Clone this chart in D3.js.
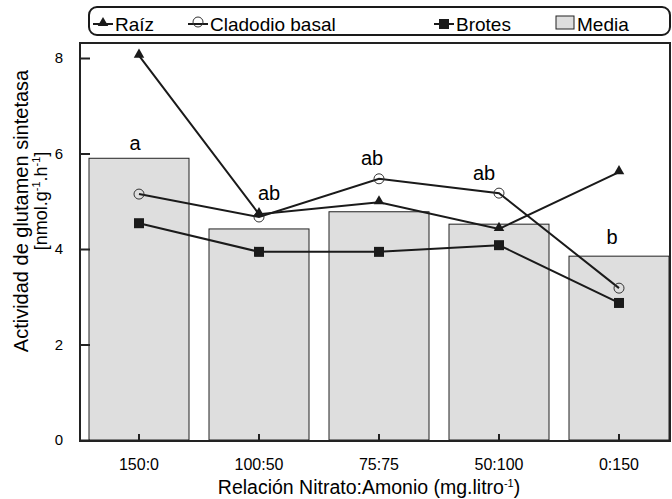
<!DOCTYPE html>
<html>
<head>
<meta charset="utf-8">
<script src="https://cdn.jsdelivr.net/npm/d3@7"></script>
<style>
  body { margin: 0; background: #fff; }
  svg { display: block; font-family: "Liberation Sans", Arial, sans-serif; }
</style>
</head>
<body>
<div class="chart"></div>
<script>
// categories and series
const categories = ["150:0", "100:50", "75:75", "50:100", "0:150"];
const media    = [5.90, 4.42, 4.78, 4.52, 3.85];
const raiz     = [8.05, 4.73, 4.98, 4.42, 5.61];
const cladodio = [5.15, 4.67, 5.47, 5.17, 3.18];
const brotes   = [4.54, 3.94, 3.94, 4.08, 2.87];
const letters  = ["a", "ab", "ab", "ab", "b"];
const letterAt = [6.07, 5.03, 5.76, 5.45, 4.10];
const yTicks   = [0, 2, 4, 6, 8];

let width = 672, height = 499;
let mLeft = 80, mRight = 670, mTop = 43, mBottom = 441;

let svg = d3.select("div.chart").append("svg")
  .attr("width", width)
  .attr("height", height);

let x = d3.scaleBand()
  .domain(categories)
  .range([79, 679])
  .paddingInner(20 / 120)
  .paddingOuter(10 / 120);

let y = d3.scaleLinear()
  .domain([0, 8])
  .range([440, 58]);

let cx = d => x(d) + x.bandwidth() / 2;

// bars (Media)
svg.append("g").selectAll("rect")
  .data(categories).enter()
  .append("rect")
  .attr("x", d => x(d))
  .attr("width", x.bandwidth())
  .attr("y", (d, i) => y(media[i]))
  .attr("height", (d, i) => y(0) - y(media[i]))
  .attr("fill", "#dedede")
  .attr("stroke", "#222")
  .attr("stroke-width", 1);

// frame
svg.append("rect")
  .attr("x", mLeft).attr("y", mTop)
  .attr("width", mRight - mLeft).attr("height", mBottom - mTop)
  .attr("fill", "none")
  .attr("stroke", "#222")
  .attr("stroke-width", 2);

// y axis: ticks inside
let yAxis = d3.axisRight(y).tickValues(yTicks).tickSize(10).tickFormat("");
let gy = svg.append("g").attr("transform", "translate(" + mLeft + ",0)").call(yAxis);
gy.select(".domain").remove();
gy.selectAll("line").attr("stroke", "#222").attr("stroke-width", 2);

svg.append("g").selectAll("text")
  .data(yTicks).enter()
  .append("text")
  .attr("x", 63)
  .attr("y", d => y(d) + 5)
  .attr("text-anchor", "end")
  .attr("font-size", 15)
  .text(d => d);

// x axis: ticks inside pointing up
let xAxis = d3.axisTop(x).tickSize(6).tickFormat("");
let gx = svg.append("g").attr("transform", "translate(0," + (mBottom - 1) + ")").call(xAxis);
gx.select(".domain").remove();
gx.selectAll("line").attr("stroke", "#222").attr("stroke-width", 2);

svg.append("g").selectAll("text")
  .data(categories).enter()
  .append("text")
  .attr("x", d => cx(d))
  .attr("y", 470)
  .attr("text-anchor", "middle")
  .attr("font-size", 16)
  .text(d => d);

// axis titles
let xt = svg.append("text")
  .attr("x", 369).attr("y", 494)
  .attr("text-anchor", "middle")
  .attr("font-size", 19.5);
xt.append("tspan").text("Relación Nitrato:Amonio (mg.litro");
xt.append("tspan").attr("font-size", 11).attr("dy", -7).text("-1");
xt.append("tspan").attr("dy", 7).text(")");

svg.append("text")
  .attr("transform", "translate(28,211) rotate(-90)")
  .attr("text-anchor", "middle")
  .attr("font-size", 20)
  .text("Actividad de glutamen sintetasa");

let yt2 = svg.append("text")
  .attr("transform", "translate(47,201) rotate(-90)")
  .attr("text-anchor", "middle")
  .attr("font-size", 18);
yt2.append("tspan").text("[nmol.g");
yt2.append("tspan").attr("font-size", 11).attr("dy", -7).text("-1");
yt2.append("tspan").attr("dy", 7).text(".h");
yt2.append("tspan").attr("font-size", 11).attr("dy", -7).text("-1");
yt2.append("tspan").attr("dy", 7).text("]");

// lines
let line = d3.line()
  .x((v, i) => cx(categories[i]))
  .y(v => y(v));

[raiz, cladodio, brotes].forEach(s => {
  svg.append("path")
    .attr("d", line(s))
    .attr("fill", "none")
    .attr("stroke", "#1a1a1a")
    .attr("stroke-width", 2);
});

let tri = d3.symbol().type(d3.symbolTriangle).size(48);
let sq = d3.symbol().type(d3.symbolSquare).size(100);

svg.append("g").selectAll("circle")
  .data(cladodio).enter()
  .append("circle")
  .attr("cx", (v, i) => cx(categories[i]))
  .attr("cy", v => y(v))
  .attr("r", 5)
  .attr("fill", "none")
  .attr("stroke", "#333")
  .attr("stroke-width", 1);

svg.append("g").selectAll("path")
  .data(raiz).enter()
  .append("path")
  .attr("d", tri)
  .attr("transform", (v, i) => "translate(" + cx(categories[i]) + "," + (y(v) - 1) + ")")
  .attr("fill", "#1a1a1a");

svg.append("g").selectAll("path")
  .data(brotes).enter()
  .append("path")
  .attr("d", sq)
  .attr("transform", (v, i) => "translate(" + cx(categories[i]) + "," + y(v) + ")")
  .attr("fill", "#1a1a1a");

// significance letters
let nudge = [-4, 10, -7, -15, -7];
svg.append("g").selectAll("text")
  .data(letters).enter()
  .append("text")
  .attr("x", (d, i) => cx(categories[i]) + nudge[i])
  .attr("y", (d, i) => y(letterAt[i]))
  .attr("text-anchor", "middle")
  .attr("font-size", 20)
  .text(d => d);

// legend
let lg = svg.append("g");
lg.append("rect")
  .attr("x", 89).attr("y", 7)
  .attr("width", 581).attr("height", 28)
  .attr("rx", 8)
  .attr("fill", "none")
  .attr("stroke", "#1a1a1a")
  .attr("stroke-width", 2);

let ly = 24;
let items = [
  { name: "Raíz", x: 93, kind: "tri" },
  { name: "Cladodio basal", x: 188, kind: "circle" },
  { name: "Brotes", x: 434, kind: "sq" },
  { name: "Media", x: 556, kind: "bar" }
];
items.forEach(it => {
  if (it.kind === "bar") {
    lg.append("rect")
      .attr("x", it.x).attr("y", ly - 8)
      .attr("width", 18).attr("height", 13)
      .attr("fill", "#dedede")
      .attr("stroke", "#222");
  } else {
    lg.append("line")
      .attr("x1", it.x).attr("x2", it.x + 20)
      .attr("y1", ly).attr("y2", ly)
      .attr("stroke", "#1a1a1a").attr("stroke-width", 2);
    if (it.kind === "tri") {
      lg.append("path").attr("d", tri).attr("transform", "translate(" + (it.x + 10) + "," + (ly - 1) + ")").attr("fill", "#1a1a1a");
    } else if (it.kind === "sq") {
      lg.append("path").attr("d", sq).attr("transform", "translate(" + (it.x + 10) + "," + ly + ")").attr("fill", "#1a1a1a");
    } else {
      lg.append("circle").attr("cx", it.x + 10).attr("cy", ly - 2).attr("r", 5)
        .attr("fill", "none").attr("stroke", "#333");
    }
  }
  lg.append("text")
    .attr("x", it.x + (it.kind === "bar" ? 21 : 22))
    .attr("y", 31)
    .attr("font-size", 19)
    .text(it.name);
});
</script>
</body>
</html>
